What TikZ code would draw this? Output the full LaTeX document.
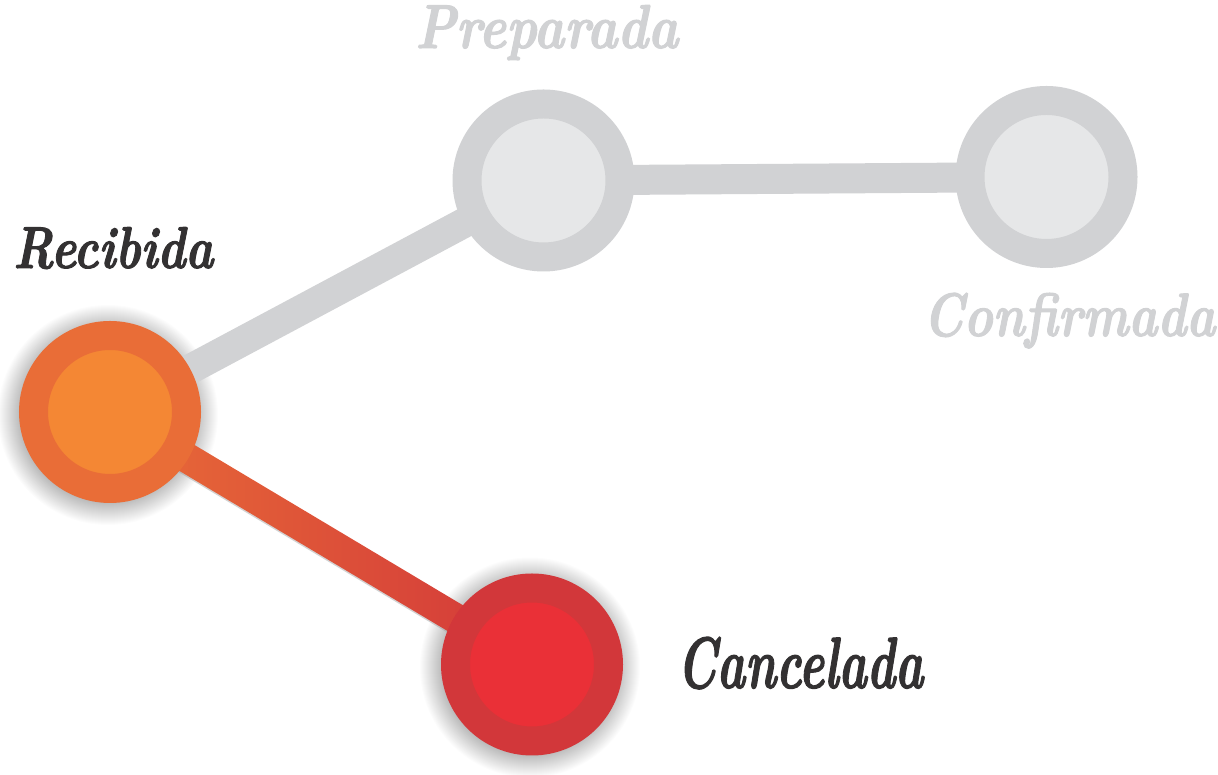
\documentclass[tikz,border=0pt]{standalone}
\usepackage{graphicx}
\usepackage{fontspec}
\newfontface\lblfont{lmroman10-bolditalic.otf}[FakeBold=1.8]
\usetikzlibrary{backgrounds,calc}
\definecolor{recout}{HTML}{E96D37}
\definecolor{recin}{HTML}{F48734}
\definecolor{canout}{HTML}{D2373A}
\definecolor{canin}{HTML}{EA3037}
\definecolor{grayout}{HTML}{D1D2D4}
\definecolor{grayin}{HTML}{E6E7E8}
\definecolor{txtdark}{HTML}{333132}
\definecolor{txtgray}{HTML}{D1D2D4}
\tikzset{
  ring/.style={circle, inner sep=0pt, minimum size=153pt, line width=29pt},
  grayring/.style={ring, draw=grayout, fill=grayin},
  glowlayer/.style={black, opacity=0.012},
  track/.style={line width=30pt, draw=grayout},
  label/.style={anchor=base west, inner sep=0pt, font=\lblfont}
}
\begin{document}
\begin{tikzpicture}[x=1pt,y=1pt]
\useasboundingbox (0,0) rectangle (1218,775);
% circles
\node[grayring] (prep) at (543.5,594.5) {};
\node[grayring] (conf) at (1046.5,598) {};
\node[ring, draw=recout, fill=recin] (rec) at (110,363) {};
\node[ring, draw=canout, fill=canin] (can) at (532,110.5) {};
% connectors and soft shadows
\begin{pgfonlayer}{background}
\fill[white] (0,0) rectangle (1218,775);
\foreach \r [evaluate=\r as \rr using 86+\r] in {1,...,24} {
  \fill[glowlayer] ([shift={(-2,-3)}]rec.center) circle (\rr pt);
  \fill[glowlayer] ([shift={(-2,-3)}]can.center) circle (\rr pt);
}
\draw[track] (rec.center) -- (prep.center);
\draw[track] (prep.center) -- (conf.center);
\begin{scope}[shift={(rec.center)}, rotate=-30.84]
\fill[black!35, opacity=0.5] (0,-16.5) rectangle (491.5,14);
\shade[left color=recout, right color=canout] (0,-15) rectangle (491.5,15);
\end{scope}
\end{pgfonlayer}
% labels
\node[label, text=txtdark] (lrec) at (13,507) {\resizebox{200pt}{41pt}{Recibida}};
\node[label, text=txtgray] (lprep) at (415,727) {\resizebox{263pt}{43pt}{Preparada}};
\node[label, text=txtgray] (lconf) at (923,439) {\resizebox{292pt}{43pt}{Confirmada}};
\node[label, text=txtdark] (lcan) at (677,87) {\resizebox{246pt}{51pt}{Cancelada}};
\end{tikzpicture}
\end{document}
